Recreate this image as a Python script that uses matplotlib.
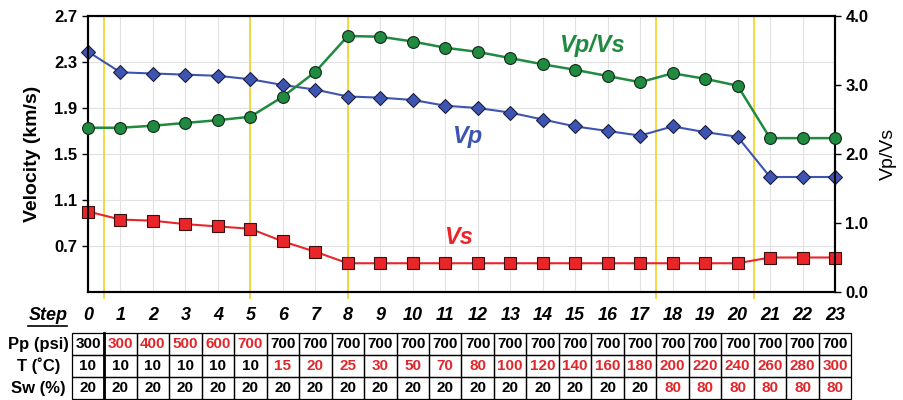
import matplotlib.pyplot as plt
from matplotlib.patches import Rectangle
from matplotlib.transforms import blended_transform_factory

plt.rcParams['font.family'] = ['Liberation Sans', 'DejaVu Sans']

# data
steps = list(range(24))
vp = [2.39, 2.21, 2.20, 2.19, 2.18, 2.15, 2.10, 2.06, 2.00, 1.99, 1.97, 1.92,
      1.90, 1.86, 1.80, 1.74, 1.70, 1.66, 1.74, 1.69, 1.65, 1.30, 1.30, 1.30]
vs = [1.00, 0.93, 0.92, 0.89, 0.87, 0.85, 0.74, 0.65, 0.55, 0.55, 0.55, 0.55,
      0.55, 0.55, 0.55, 0.55, 0.55, 0.55, 0.55, 0.55, 0.55, 0.60, 0.60, 0.60]
vpvs = [2.38, 2.38, 2.41, 2.45, 2.49, 2.54, 2.83, 3.19, 3.71, 3.70, 3.63, 3.54,
        3.48, 3.39, 3.30, 3.22, 3.13, 3.04, 3.17, 3.09, 2.99, 2.23, 2.23, 2.23]
stage_breaks = [0.5, 5, 8, 17.5, 20.5]

pp = [300, 300, 400, 500, 600, 700] + [700] * 18
temp = [10, 10, 10, 10, 10, 10, 15, 20, 25, 30, 50, 70, 80, 100, 120, 140,
        160, 180, 200, 220, 240, 260, 280, 300]
sw = [20] * 18 + [80] * 6
pp_red = [False] + [True] * 5 + [False] * 18
temp_red = [False] * 6 + [True] * 18
sw_red = [False] * 18 + [True] * 6

BLUE = '#3d55b0'
RED = '#e8262a'
GREEN = '#1f8a40'
TXT_RED = '#e0282c'

fig = plt.figure(figsize=(9.04, 4.0), dpi=100)
ax = fig.add_axes([0.0973, 0.27, 0.8264, 0.69])
ax2 = ax.twinx()

ax.set_xlim(0, 23)
ax.set_ylim(0.3, 2.7)
ax2.set_ylim(0, 4)

# grid
ax.set_xticks(steps)
ax.set_xticklabels([])
ax.tick_params(axis='x', length=0)
ax.set_yticks([0.7, 1.1, 1.5, 1.9, 2.3, 2.7])
ax.grid(True, color='#e2e2e2', lw=0.8)
ax.set_axisbelow(True)

for b in stage_breaks:
    ax.axvline(b, ymin=-0.02, ymax=1.0, color='#f2d630', lw=1.3, clip_on=False, zorder=1)

ax.plot(steps, vp, color=BLUE, lw=1.5, marker='D', ms=7, mfc=BLUE, mec='#1a1f40', mew=0.8,
        zorder=5, clip_on=False)
ax.plot(steps, vs, color=RED, lw=1.5, marker='s', ms=8, mfc=RED, mec='#3a0f0f', mew=0.8,
        zorder=5, clip_on=False)
ax2.plot(steps, vpvs, color=GREEN, lw=1.8, marker='o', ms=8.5, mfc=GREEN, mec='#0f2a15', mew=0.8,
         zorder=5, clip_on=False)

ax.text(11.2, 1.6, 'Vp', color=BLUE, fontsize=17, fontweight='bold', style='italic')
ax.text(10.95, 0.72, 'Vs', color=RED, fontsize=17, fontweight='bold', style='italic')
ax2.text(14.5, 3.48, 'Vp/Vs', color=GREEN, fontsize=17, fontweight='bold', style='italic')

ax.set_ylabel('Velocity (km/s)', fontsize=14, fontweight='bold', labelpad=10)
ax2.set_ylabel('Vp/Vs', fontsize=14, labelpad=8)
ax2.set_yticks([0, 1, 2, 3, 4])
ax2.set_yticklabels(['0.0', '1.0', '2.0', '3.0', '4.0'])
for a in (ax, ax2):
    a.tick_params(axis='y', labelsize=12, length=4, width=1)
    for lab in a.get_yticklabels():
        lab.set_fontweight('bold')
for sp in ax.spines.values():
    sp.set_linewidth(1.5)
for sp in ax2.spines.values():
    sp.set_linewidth(1.5)

# step labels and table underneath
tr = blended_transform_factory(ax.transData, fig.transFigure)
y_step = 1 - 315 / 400
fig.text(0.053, y_step, 'Step', ha='center', va='center', fontsize=13, fontweight='bold',
         style='italic')
fig.add_artist(plt.Line2D([0.031, 0.074], [y_step - 0.027, y_step - 0.027], color='black', lw=1.2))
for s in steps:
    ax.text(s, y_step, str(s), transform=tr, ha='center', va='center', fontsize=13,
            fontweight='bold', style='italic', clip_on=False)

row_top = [1 - 333 / 400, 1 - 355 / 400, 1 - 377 / 400]
row_h = 22 / 400
rows = [('Pp (psi)', pp, pp_red), ('T (\u02daC)', temp, temp_red), ('Sw (%)', sw, sw_red)]
for (label, vals, reds), top in zip(rows, row_top):
    yc = top - row_h / 2
    fig.text(0.0425, yc, label, ha='center', va='center', fontsize=12, fontweight='bold')
    for s, v, r in zip(steps, vals, reds):
        ax.add_artist(Rectangle((s - 0.5, top - row_h), 1, row_h, transform=tr, fill=False,
                                ec='black', lw=0.9, clip_on=False))
        ax.text(s, yc, str(v), transform=tr, ha='center', va='center', fontsize=11,
                fontweight='bold', color=TXT_RED if r else 'black', clip_on=False)
# thicker line after the first column
ax.add_artist(plt.Line2D([0.5, 0.5], [row_top[0], row_top[2] - row_h], transform=tr,
                         color='black', lw=2, clip_on=False))

fig.savefig('out.png', dpi=100)
